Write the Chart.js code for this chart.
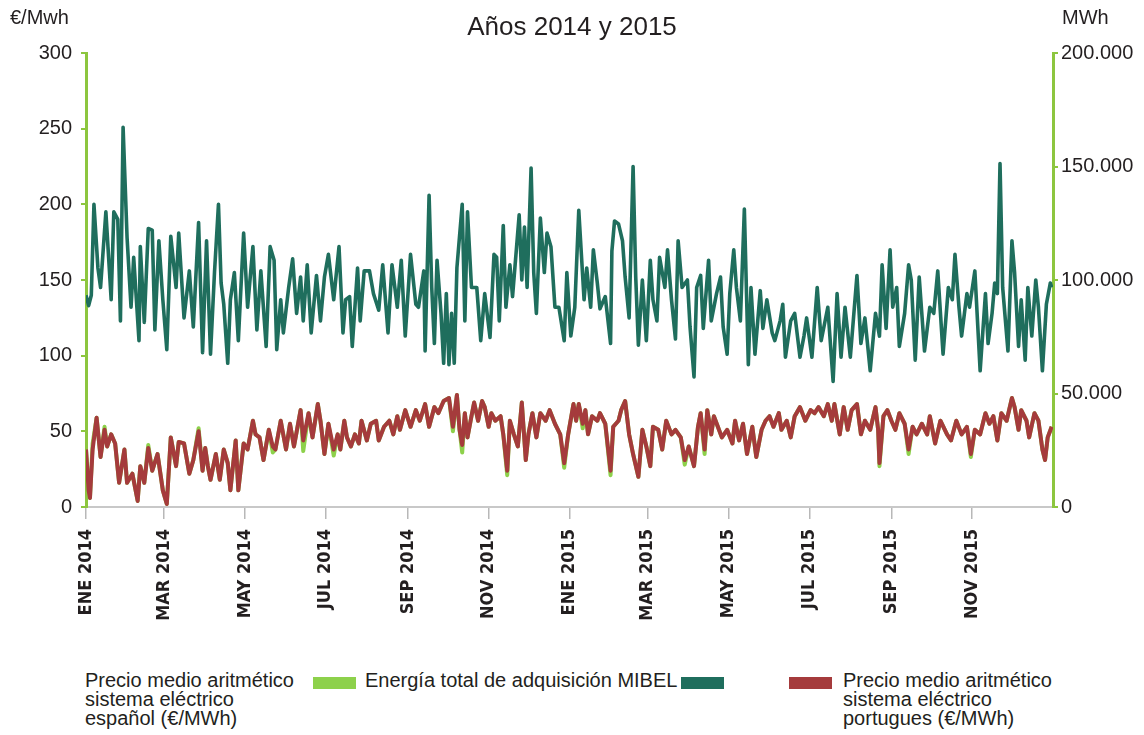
<!DOCTYPE html>
<html lang="es">
<head>
<meta charset="utf-8">
<title>Años 2014 y 2015</title>
<script src="https://cdn.jsdelivr.net/npm/chart.js@4.4.1/dist/chart.umd.min.js"></script>
<style>
  body { margin:0; background:#fff; color:#231f20; font-family:"Liberation Sans", Arial, sans-serif; }
  #wrap { position:relative; width:1144px; height:735px; overflow:hidden; }
  #chart { position:absolute; left:0; top:0; }
  .t { position:absolute; white-space:nowrap; }
  #title { left:0; width:1144px; top:11px; text-align:center; font-size:26px; }
  #unitL { left:10px; top:6px; font-size:20px; }
  #unitR { left:1062px; top:6px; font-size:20px; }
  .leg { font-size:20px; line-height:19px; top:671px; }
  .sw { position:absolute; top:677px; width:43px; height:12px; }
</style>
</head>
<body>
<div id="wrap">
  <canvas id="chart" width="1144" height="650"></canvas>
  <div class="t" id="title">Años 2014 y 2015</div>
  <div class="t" id="unitL">€/Mwh</div>
  <div class="t" id="unitR">MWh</div>
  <div class="t leg" style="left:85px">Precio medio aritmético<br>sistema eléctrico<br>español (€/MWh)</div>
  <div class="sw" style="left:313px;background:#8dd14b"></div>
  <div class="t leg" style="left:365px">Energía total de adquisición MIBEL</div>
  <div class="sw" style="left:681px;background:#1f6e5d"></div>
  <div class="sw" style="left:789px;background:#a53b3c"></div>
  <div class="t leg" style="left:843px">Precio medio aritmético<br>sistema eléctrico<br>portugues (€/MWh)</div>
</div>
<script>
// eje X: día 0 = 1 ene 2014
const monthDays = [0, 59, 120, 181, 243, 304, 365, 424, 485, 546, 608, 669];
const monthLabels = ['ENE 2014', 'MAR 2014', 'MAY 2014', 'JUL 2014', 'SEP 2014', 'NOV 2014',
                     'ENE 2015', 'MAR 2015', 'MAY 2015', 'JUL 2015', 'SEP 2015', 'NOV 2015'];

// Energía total de adquisición MIBEL (MWh)
const energyDays = [
  0,2,4,6,9,11,15,19,21,24,
  26,28,31,34,36,40,41,44,47,50,
  52,55,58,61,64,68,70,74,78,81,
  85,88,91,94,97,100,102,104,107,109,
  112,115,119,122,126,129,132,136,139,142,
  144,147,149,153,156,159,162,164,167,170,
  174,177,180,183,187,191,194,196,199,201,
  205,207,210,214,217,221,224,228,231,235,
  238,241,245,249,251,255,256,259,261,263,
  265,268,270,272,274,276,278,280,284,286,
  288,291,295,298,301,305,308,310,312,315,
  317,320,322,327,329,331,333,336,338,340,
  343,346,348,351,354,357,361,363,366,369,
  372,376,378,381,383,386,388,392,396,397,
  399,402,405,407,410,413,415,417,420,423,
  426,428,431,433,437,439,442,445,447,450,
  454,456,459,461,464,466,470,472,476,479,
  481,484,486,489,491,494,497,500,502,505,
  509,511,514,518,520,524,526,528,532,535,
  539,542,544,548,552,555,560,564,567,570,
  573,577,582,585,588,592,596,599,601,604,
  607,609,612,614,618,621,623,626,629,633,
  637,640,643,647,651,654,656,659,661,665,
  667,671,675,679,681,684,686,688,690,692,
  696,699,701,704,706,709,711,714,717,719,
  722,725,728,729
];
const energyMwh = [
  93300,88700,93300,133300,105300,96700,130000,91300,130000,126700,
  82000,167300,118700,88000,110000,73300,114700,81300,122700,122000,
  78000,117300,91300,69300,119300,96700,120700,83300,104000,79300,
  125300,68000,117300,67300,103300,133300,98700,89300,63300,91300,
  103300,73300,120700,88000,114700,78000,104000,70700,114700,108700,
  69300,91300,76700,96700,109300,85300,101300,82000,106700,76700,
  102000,82000,101300,111300,91300,114700,76700,91300,92700,70700,
  105300,82000,104000,104000,94000,86700,106700,76700,106700,88000,
  108700,75300,111300,89300,88000,104000,68700,137300,96700,72000,
  108700,85300,63300,94000,62700,85300,63300,105300,133300,82000,
  130000,96700,96700,73300,94000,74700,111300,110000,82000,124000,
  88000,106700,92700,128700,100000,123300,96700,149300,103300,85300,
  127300,103300,120700,114700,88000,88000,73300,103300,75300,88000,
  130700,91300,105300,88000,113300,98700,87300,92700,72000,112700,
  126000,124700,117300,101300,83300,150000,101300,71300,100000,73300,
  108700,91300,82000,110000,96700,113300,91300,74000,117300,96700,
  100000,79300,57300,96700,102000,78700,108700,82000,94000,101300,
  79300,67300,94000,113300,96700,82000,131300,62700,96700,67300,
  95300,78700,91300,76700,73300,82000,89300,66000,82000,85300,
  66000,75300,83300,66000,96700,73300,88000,55300,94000,66000,
  88000,66000,102000,72000,83300,60000,85300,75300,106700,78700,
  113300,88000,96700,70700,85300,106700,100000,64700,101300,68700,
  88000,85300,104000,67300,96700,91300,111300,88000,75300,94000,
  88000,104000,60000,94000,72000,85300,98700,94000,151300,96700,
  68700,117300,103300,70700,91300,64700,96700,75300,100000,88000,
  60000,89300,98700,96700
];

// precios medios (€/MWh)
const priceDays = [
  0,2,3,5,8,11,14,16,19,22,
  25,29,31,35,39,41,44,47,50,54,
  58,61,64,68,70,74,78,81,85,88,
  90,92,94,98,101,104,107,109,113,115,
  119,122,126,128,131,134,138,141,143,147,
  151,154,157,162,164,168,171,175,177,180,
  183,187,190,192,195,197,200,203,206,208,
  212,215,219,221,225,229,232,235,237,241,
  245,249,252,256,259,263,266,270,274,277,
  280,282,284,286,288,291,293,296,299,301,
  304,306,309,313,315,318,320,323,326,329,
  332,334,337,340,343,347,350,354,358,361,
  364,368,370,372,375,377,379,382,386,388,
  392,396,398,402,404,407,410,413,417,420,
  423,426,428,432,435,438,442,445,449,452,
  455,459,462,464,467,469,472,474,477,480,
  484,488,490,493,496,499,503,506,510,513,
  516,519,523,525,529,532,535,539,543,547,
  550,553,557,560,563,565,569,572,575,578,
  582,585,588,592,596,598,599,602,605,608,
  611,614,618,621,624,627,631,635,637,641,
  645,650,653,657,661,665,668,671,675,679,
  682,685,688,691,695,699,701,704,706,710,
  712,716,719,722,724,726,729
];
const pricePT = [
  38,11,6,38,59,33,51,40,48,42,
  16,38,16,22,4,27,16,39,24,35,
  11,2,46,27,43,42,22,31,50,24,
  39,27,18,35,18,38,29,11,44,11,
  42,38,57,48,46,31,51,40,38,57,
  38,55,40,64,44,62,46,68,57,35,
  55,38,48,38,57,46,40,48,42,57,
  44,55,57,44,53,57,48,60,51,64,
  53,64,57,68,53,66,62,70,72,53,
  74,51,41,62,46,60,69,57,70,66,
  53,62,57,60,48,24,57,48,40,69,
  31,48,62,46,62,57,64,55,48,29,
  48,68,57,68,55,64,48,60,57,62,
  55,24,53,57,64,70,48,35,20,51,
  40,27,53,51,38,57,48,51,46,31,
  40,27,53,62,38,64,48,60,53,46,
  51,42,57,44,55,35,53,33,51,57,
  60,53,62,51,57,46,60,66,57,64,
  62,66,60,68,57,68,48,66,51,64,
  68,48,57,51,66,51,29,60,64,57,
  51,62,55,38,53,48,55,48,60,42,
  57,48,44,57,48,53,35,51,48,62,
  55,60,44,62,57,72,66,51,64,57,
  46,62,57,38,31,46,53
];
const priceES = [
  38,11,6,42,59,33,53,40,48,42,
  16,38,16,22,4,27,16,41,24,35,
  11,2,46,27,43,42,22,31,52,24,
  39,27,18,35,18,38,29,11,44,11,
  42,38,57,48,46,31,51,36,38,57,
  38,55,40,64,37,62,46,68,57,35,
  55,34,48,38,57,46,40,48,42,57,
  44,55,57,44,53,57,48,60,51,64,
  53,64,57,68,53,66,62,70,72,50,
  74,51,36,62,46,60,69,57,70,66,
  53,62,57,60,48,21,57,48,40,69,
  31,48,62,46,62,57,64,55,48,26,
  48,68,57,68,52,64,48,60,57,62,
  55,21,53,57,64,70,48,35,20,51,
  40,27,53,51,38,57,48,51,46,28,
  40,27,53,62,35,64,48,60,53,46,
  51,42,57,44,55,35,53,33,51,57,
  60,53,62,51,57,46,60,66,57,64,
  62,66,60,68,57,68,48,66,51,64,
  68,48,57,51,66,51,27,60,64,57,
  51,62,55,35,53,48,55,48,60,42,
  57,48,44,57,48,53,33,51,48,62,
  55,60,44,62,57,72,66,51,64,57,
  46,62,57,38,31,46,53
];

const lime = '#8dc63f';
const ink = '#231f20';
const pts = (xs, ys) => xs.map((x, i) => ({ x, y: ys[i] }));
const miles = v => String(v).replace(/\B(?=(\d{3})+(?!\d))/g, '.');

new Chart(document.getElementById('chart').getContext('2d'), {
  type: 'line',
  data: {
    datasets: [
      { label: 'Precio medio aritmético sistema eléctrico portugues (€/MWh)', data: pts(priceDays, pricePT),
        borderColor: '#a53b3c', borderWidth: 4, yAxisID: 'y', order: 0 },
      { label: 'Precio medio aritmético sistema eléctrico español (€/MWh)', data: pts(priceDays, priceES),
        borderColor: '#8dd14b', borderWidth: 4, yAxisID: 'y', order: 1 },
      { label: 'Energía total de adquisición MIBEL', data: pts(energyDays, energyMwh),
        borderColor: '#1f6e5d', borderWidth: 3.6, yAxisID: 'y2', order: 2 }
    ]
  },
  options: {
    responsive: false,
    animation: false,
    devicePixelRatio: 1,
    elements: { point: { radius: 0 }, line: { tension: 0, borderJoinStyle: 'round' } },
    layout: { padding: { top: 53, left: 0, right: 0, bottom: 0 } },
    plugins: { legend: { display: false }, tooltip: { enabled: false } },
    scales: {
      x: {
        type: 'linear', min: 0, max: 730,
        afterBuildTicks: s => { s.ticks = monthDays.map(v => ({ value: v })); },
        afterFit: s => { s.height = 143; },
        ticks: { autoSkip: false, minRotation: 90, maxRotation: 90, padding: 10, color: ink,
                 font: { family: '"DejaVu Sans Condensed", sans-serif', size: 18, weight: 'bold' },
                 callback: (v, i) => monthLabels[i] },
        grid: { drawOnChartArea: false, tickLength: 12, color: '#b8b8b8', lineWidth: 1.5 },
        border: { color: '#c8c8c8', width: 2 }
      },
      y: {
        position: 'left', min: 0, max: 300,
        afterFit: s => { s.width = 86; },
        ticks: { stepSize: 50, padding: 9, color: ink, font: { family: '"Liberation Sans", Arial', size: 20 } },
        grid: { drawOnChartArea: false, tickLength: 5, color: lime, lineWidth: 2 },
        border: { color: lime, width: 3 }
      },
      y2: {
        position: 'right', min: 0, max: 200000,
        afterFit: s => { s.width = 91; },
        ticks: { stepSize: 50000, padding: 3, color: ink, font: { family: '"Liberation Sans", Arial', size: 20 },
                 callback: v => miles(v) },
        grid: { drawOnChartArea: false, tickLength: 5, color: lime, lineWidth: 2 },
        border: { color: lime, width: 3 }
      }
    }
  }
});
</script>
</body>
</html>
